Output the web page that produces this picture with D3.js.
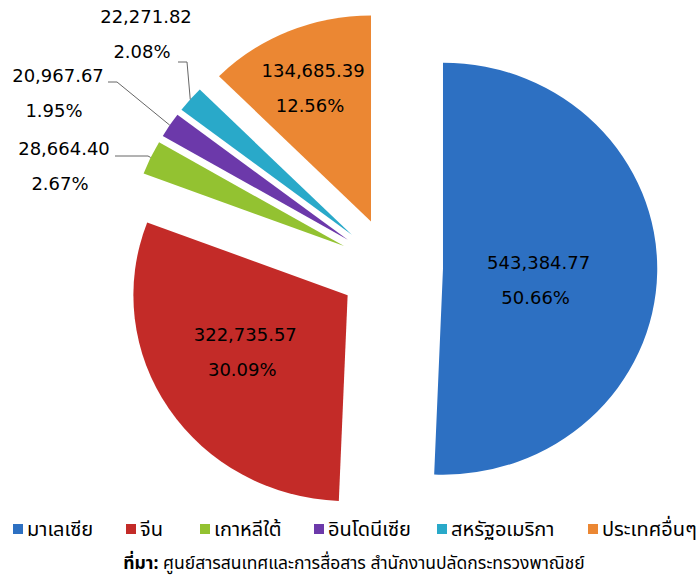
<!DOCTYPE html>
<html>
<head>
<meta charset="utf-8">
<script src="https://cdn.jsdelivr.net/npm/d3@7"></script>
<style>
  html, body { margin: 0; padding: 0; background: #fff; }
  svg { display: block; }
</style>
</head>
<body>
<svg id="chart" width="700" height="578"></svg>
<script>
// ---- data ----
const categories = ["มาเลเซีย", "จีน", "เกาหลีใต้", "อินโดนีเซีย", "สหรัฐอเมริกา", "ประเทศอื่นๆ"];
const values = [543384.77, 322735.57, 28664.40, 20967.67, 22271.82, 134685.39];
const percentLabels = ["50.66%", "30.09%", "2.67%", "1.95%", "2.08%", "12.56%"];
const valueLabels = ["543,384.77", "322,735.57", "28,664.40", "20,967.67", "22,271.82", "134,685.39"];
const colors = ["#2D70C2", "#C32B28", "#93C231", "#6C39AA", "#29A9C9", "#EB8733"];
const sourceLabel = "ที่มา:";
const sourceText = " ศูนย์สารสนเทศและการสื่อสาร สำนักงานปลัดกระทรวงพาณิชย์";

// ---- layout ----
const W = 700, H = 578;
const cx = 391, cy = 267.6, R = 206, sx = 1.04, explode = 50;
const svg = d3.select("#chart");
const font = "'DejaVu Sans', Verdana, sans-serif";
const thaiFont = "'Noto Sans Thai', 'Noto Sans', Tahoma, sans-serif";

const pie = d3.pie().sort(null).value(d => d)(values);
const arc = d3.arc().innerRadius(0).outerRadius(R);

function dir(a) { return [Math.sin(a), -Math.cos(a)]; }
function toScreen(a, dist) {
  const [dx, dy] = dir(a);
  return [cx + dx * dist * sx, cy + dy * dist];
}

const g = svg.append("g").attr("transform", `translate(${cx},${cy}) scale(${sx},1)`);
g.selectAll("path").data(pie).join("path")
  .attr("d", arc)
  .attr("fill", (d, i) => colors[i])
  .attr("transform", d => {
    const [dx, dy] = dir((d.startAngle + d.endAngle) / 2);
    return `translate(${dx * explode},${dy * explode})`;
  });

// inside labels (big slices): radial distance from the slice apex + small vertical nudge
const insideLabels = [
  {i: 0, dist: 92, dy: 9},
  {i: 1, dist: 118, dy: -8},
  {i: 5, dist: 145, dy: 0}
];
insideLabels.forEach(o => {
  const d = pie[o.i];
  const a = (d.startAngle + d.endAngle) / 2;
  const [x, y0] = toScreen(a, explode + o.dist);
  const y = y0 + o.dy;
  const t = svg.append("text").attr("font-family", font).attr("font-size", 18)
    .attr("fill", "#000").attr("text-anchor", "middle");
  t.append("tspan").attr("x", x).attr("y", y - 11).text(valueLabels[o.i]);
  t.append("tspan").attr("x", x - 3).attr("y", y + 24).text(percentLabels[o.i]);
});

// outside labels with leader lines
const outside = [
  {i: 2, lx: 64, ly: 156, elbow: [148, 156], end: [115, 156]},
  {i: 3, lx: 58, ly: 83, elbow: [117, 82], end: [108, 82]},
  {i: 4, lx: 146, ly: 24, elbow: [187, 62], end: [178, 62]}
];
outside.forEach(o => {
  const d = pie[o.i];
  const a = (d.startAngle + d.endAngle) / 2;
  const p = toScreen(a, explode + R);
  svg.append("polyline")
    .attr("points", [o.end, o.elbow, p].map(q => q.join(",")).join(" "))
    .attr("fill", "none").attr("stroke", "#666").attr("stroke-width", 1);
  const t = svg.append("text").attr("font-family", font).attr("font-size", 18)
    .attr("fill", "#000").attr("text-anchor", "middle");
  t.append("tspan").attr("x", o.lx).attr("y", o.ly - 1).text(valueLabels[o.i]);
  t.append("tspan").attr("x", o.lx - 4).attr("y", o.ly + 34).text(percentLabels[o.i]);
});

// legend
const legendX = [13, 126, 200, 314, 437, 588];
const legendY = 530;
const lg = svg.append("g");
categories.forEach((c, i) => {
  lg.append("rect").attr("x", legendX[i]).attr("y", legendY - 6).attr("width", 10).attr("height", 10)
    .attr("fill", colors[i]);
  lg.append("text").attr("x", legendX[i] + 14).attr("y", legendY + 6)
    .attr("font-family", thaiFont).attr("font-size", 20)
    .attr("fill", "#000").text(c);
});

// source
const src = svg.append("text").attr("x", 354).attr("y", 569).attr("text-anchor", "middle")
  .attr("font-family", thaiFont).attr("font-size", 17.5).attr("fill", "#000");
src.append("tspan").attr("font-weight", "bold").text(sourceLabel);
src.append("tspan").text(sourceText);
</script>
</body>
</html>
